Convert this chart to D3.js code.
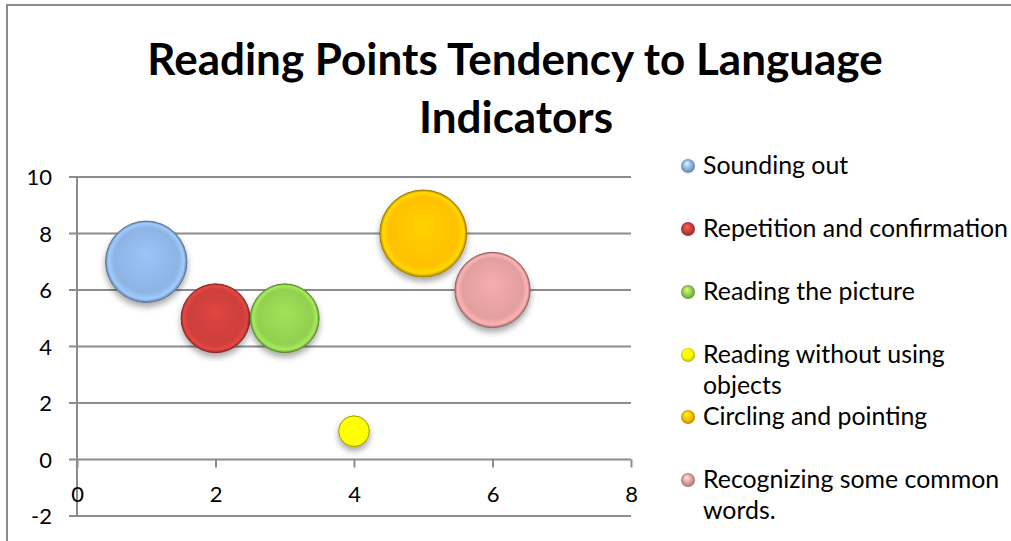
<!DOCTYPE html>
<html>
<head>
<meta charset="utf-8">
<script src="https://cdn.jsdelivr.net/npm/d3@7"></script>
<style>
  body { margin: 0; background: #fff; }
  svg { display: block; }
  text { font-family: Lato, "Open Sans", sans-serif; fill: #000; }
</style>
</head>
<body>
<script>
// chart data
const categories = ['Sounding out', 'Repetition and confirmation', 'Reading the picture',
  'Reading without using objects', 'Circling and pointing', 'Recognizing some common words.'];
const xValues = [1, 2, 3, 4, 5, 6];
const yValues = [7, 5, 5, 1, 8, 6];
const sizes = [7, 5, 5, 1, 8, 6];
const xTicks = [0, 2, 4, 6, 8];
const yTicks = [-2, 0, 2, 4, 6, 8, 10];
const titleLines = ['Reading Points Tendency to Language', 'Indicators'];
// legend text as it wraps in the picture
const legendLines = [['Sounding out'], ['Repetition and confirmation'], ['Reading the picture'],
  ['Reading without using', 'objects'], ['Circling and pointing'], ['Recognizing some common', 'words.']];
const colors = ['#8db4e3', '#cc3f3c', '#92d050', '#ffff00', '#ffc000', '#e29e9e'];

const W = 1011, H = 541;
const svg = d3.select(document.body).append('svg').attr('width', W).attr('height', H);
const defs = svg.append('defs');

// soft shadow under the bubbles
const sh = defs.append('filter').attr('id', 'shadow')
  .attr('x', '-30%').attr('y', '-30%').attr('width', '160%').attr('height', '170%');
sh.append('feDropShadow').attr('dx', 0).attr('dy', 4).attr('stdDeviation', 3)
  .attr('flood-color', '#000').attr('flood-opacity', 0.35);

colors.forEach((c, i) => {
  let base = d3.color(c);
  let g = defs.append('radialGradient').attr('id', 'bub' + i)
    .attr('cx', '50%').attr('cy', '50%').attr('r', '50%').attr('fx', '50%').attr('fy', '40%');
  g.append('stop').attr('offset', '0%').attr('stop-color', base.brighter(0.25));
  g.append('stop').attr('offset', '80%').attr('stop-color', base);
  g.append('stop').attr('offset', '93%').attr('stop-color', base.brighter(0.35));
  g.append('stop').attr('offset', '100%').attr('stop-color', base.darker(0.9));

  let s = defs.append('radialGradient').attr('id', 'dot' + i)
    .attr('cx', '50%').attr('cy', '50%').attr('r', '55%').attr('fx', '40%').attr('fy', '30%');
  s.append('stop').attr('offset', '0%').attr('stop-color', base.brighter(1.2));
  s.append('stop').attr('offset', '55%').attr('stop-color', base);
  s.append('stop').attr('offset', '100%').attr('stop-color', base.darker(1.1));
});

// chart frame (only top and left edges are visible)
svg.append('path').attr('d', `M7,${H}V5H${W}`)
  .attr('fill', 'none').attr('stroke', '#8a8a8a').attr('stroke-width', 2);

// title, fitted to the width it has in the picture
const title = svg.append('g');
let t1 = title.append('text').attr('x', 515).attr('y', 75)
  .attr('text-anchor', 'middle').style('font-weight', 700).style('font-size', '40px')
  .text(titleLines[0]);
let fs = Math.min(44, 40 * 742 / t1.node().getComputedTextLength());
t1.style('font-size', fs + 'px');
title.append('text').attr('x', 516).attr('y', 133)
  .attr('text-anchor', 'middle').style('font-weight', 700).style('font-size', fs + 'px')
  .text(titleLines[1]);

// scales
const x = d3.scaleLinear().domain([0, 8]).range([77, 631]);
const y = d3.scaleLinear().domain([-2, 10]).range([516, 177]);
const r = d3.scaleSqrt().domain([0, 8]).range([0, 43.5]);

const grid = svg.append('g');
grid.selectAll('line').data(yTicks).enter().append('line')
  .attr('x1', x(0) - 8).attr('x2', x(8))
  .attr('y1', d => y(d)).attr('y2', d => y(d))
  .attr('stroke', '#8c8c8c').attr('stroke-width', 2);

// y axis
const yAxis = svg.append('g').attr('transform', `translate(${x(0)},0)`)
  .call(d3.axisLeft(y).tickValues(yTicks).tickFormat(d => String(d)).tickSize(0).tickPadding(25));
yAxis.select('.domain').remove();
yAxis.append('line').attr('x1', 0).attr('x2', 0).attr('y1', y(10)).attr('y2', y(-2))
  .attr('stroke', '#8c8c8c').attr('stroke-width', 2);
yAxis.selectAll('text').style('font-size', '22px').style('font-family', 'Lato, sans-serif')
  .attr('fill', '#000').attr('dy', '0.36em');

// x axis crosses at y = 0
const xAxis = svg.append('g').attr('transform', `translate(0,${y(0)})`)
  .call(d3.axisBottom(x).tickValues(xTicks).tickFormat(d => String(d)).tickSize(8).tickPadding(19));
xAxis.select('.domain').remove();
xAxis.selectAll('.tick line').attr('stroke', '#8c8c8c').attr('stroke-width', 2);
xAxis.selectAll('text').style('font-size', '22px').style('font-family', 'Lato, sans-serif')
  .attr('fill', '#000');

// bubbles
const pts = categories.map((c, i) => ({ c, i, x: xValues[i], y: yValues[i], s: sizes[i] }));
svg.append('g').selectAll('circle').data(pts).enter().append('circle')
  .attr('cx', d => x(d.x)).attr('cy', d => y(d.y)).attr('r', d => r(d.s))
  .attr('fill', d => `url(#bub${d.i})`)
  .attr('stroke', d => d3.color(colors[d.i]).darker(1.2)).attr('stroke-width', 1)
  .attr('filter', 'url(#shadow)');

// legend
const legendTop = [166, 229, 292, 355, 417, 480];
const leg = svg.append('g');
const items = leg.selectAll('g').data(pts).enter().append('g')
  .attr('transform', d => `translate(688,${legendTop[d.i]})`);
items.append('circle').attr('r', 7).attr('fill', d => `url(#dot${d.i})`);
const lt = items.append('text').attr('x', 15).attr('y', 8).style('font-size', '22px');
lt.selectAll('tspan').data(d => legendLines[d.i]).enter().append('tspan')
  .attr('x', 15).attr('dy', (d, k) => k ? 31 : 0).text(d => d);
// fit legend text width to the picture
let longest = lt.filter(d => d.i === 1).node().getComputedTextLength();
let lfs = Math.min(26, 22 * 305 / longest);
lt.style('font-size', lfs + 'px');
</script>
</body>
</html>
